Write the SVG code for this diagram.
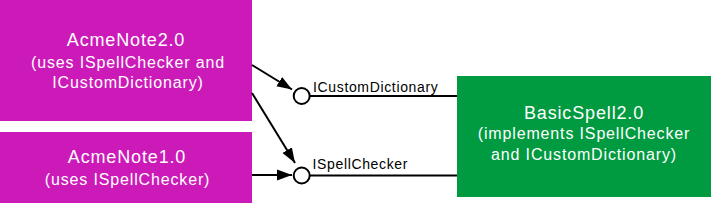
<svg xmlns="http://www.w3.org/2000/svg" width="713" height="205" viewBox="0 0 713 205">
<style>
.client{fill:#CC1AB9}
.server{fill:#009A40}
.t{font-family:"Liberation Sans",Arial,sans-serif;fill:#fff;text-anchor:middle;letter-spacing:0.85px}
.h{font-size:18px}
.s{font-size:16px}
.lbl{font-family:"Liberation Sans",Arial,sans-serif;font-size:14px;fill:#000;letter-spacing:0.65px}
.ln{stroke:#000;stroke-width:2;fill:none}
.ifc{stroke:#000;stroke-width:2;fill:#fff}
</style>
<defs>
<marker id="ah" markerUnits="userSpaceOnUse" markerWidth="16" markerHeight="12" refX="15" refY="6" orient="auto">
<path d="M0,0.5 L15,6 L0,11.5 z" fill="#000"/>
</marker>
</defs>
<g id="acmenote2">
<rect class="client" x="0" y="0" width="252" height="121"/>
<text class="t h" x="126" y="46">AcmeNote2.0</text>
<text class="t s" x="128" y="67.5">(uses ISpellChecker and</text>
<text class="t s" x="128" y="87.5">ICustomDictionary)</text>
</g>
<g id="acmenote1">
<rect class="client" x="0" y="132" width="252" height="71"/>
<text class="t h" x="127" y="162.5">AcmeNote1.0</text>
<text class="t s" x="127.5" y="184.5">(uses ISpellChecker)</text>
</g>
<g id="basicspell2">
<rect class="server" x="457" y="76" width="254" height="121"/>
<text class="t h" x="584" y="119">BasicSpell2.0</text>
<text class="t s" x="584" y="139">(implements ISpellChecker</text>
<text class="t s" x="584" y="159.5">and ICustomDictionary)</text>
</g>
<g id="connectors">
<line class="ln" x1="310" y1="96" x2="457" y2="96"/>
<line class="ln" x1="310" y1="175.5" x2="457" y2="175.5"/>
<line class="ln" x1="252" y1="65" x2="292" y2="89.5" marker-end="url(#ah)"/>
<line class="ln" x1="252" y1="93" x2="295" y2="163" marker-end="url(#ah)"/>
<line class="ln" x1="252" y1="175" x2="292" y2="175" marker-end="url(#ah)"/>
</g>
<g id="icustomdictionary">
<circle class="ifc" cx="301.7" cy="96" r="8"/>
<text class="lbl" x="313" y="92">ICustomDictionary</text>
</g>
<g id="ispellchecker">
<circle class="ifc" cx="301.7" cy="175.5" r="8"/>
<text class="lbl" x="312.5" y="168.5">ISpellChecker</text>
</g>
</svg>
